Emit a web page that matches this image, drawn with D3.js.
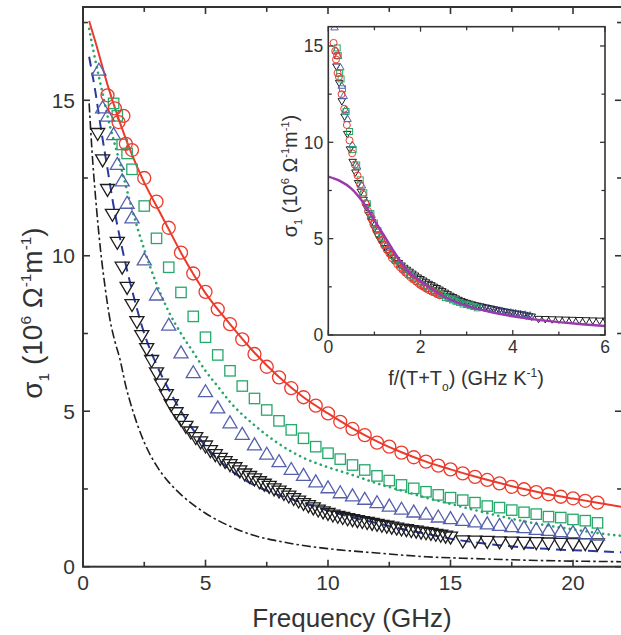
<!DOCTYPE html>
<html>
<head>
<meta charset="utf-8">
<script src="https://cdn.jsdelivr.net/npm/d3@7"></script>
<style>
  body { margin: 0; background: #fff; }
  svg { display: block; font-family: "Liberation Sans", Arial, sans-serif; }
</style>
</head>
<body>
<svg id="chart" width="621" height="635"></svg>
<script>
// ---- data (frequency in GHz, sigma_1 in 10^6 1/(Ohm m)) ----
let redF = [1.0, 1.3, 1.45, 1.65, 1.75, 2.0, 2.5, 3.0, 3.5, 4.0, 4.5, 5.0, 5.5, 6.0, 6.5, 7.0, 7.5, 8.0, 8.5, 9.0, 9.5, 10, 10.5, 11, 11.5, 12, 12.5, 13, 13.5, 14, 14.5, 15, 15.5, 16, 16.5, 17, 17.5, 18, 18.5, 19, 19.5, 20, 20.5, 21];
let redS = [15.16, 14.74, 14.3, 14.5, 13.6, 13.4, 12.5, 11.74, 10.9, 10.1, 9.43, 8.84, 8.28, 7.8, 7.31, 6.84, 6.43, 6.09, 5.74, 5.45, 5.18, 4.93, 4.66, 4.43, 4.23, 3.99, 3.86, 3.67, 3.52, 3.38, 3.25, 3.13, 3.0, 2.89, 2.79, 2.68, 2.57, 2.49, 2.4, 2.33, 2.25, 2.2, 2.12, 2.06];

let greenF = [1.25, 1.4, 1.6, 1.8, 2.0, 2.5, 3.0, 3.5, 4.0, 4.5, 5.0, 5.5, 6.0, 6.5, 7.0, 7.5, 8.0, 8.5, 9.0, 9.5, 10, 10.5, 11, 11.5, 12, 12.5, 13, 13.5, 14, 14.5, 15, 15.5, 16, 16.5, 17, 17.5, 18, 18.5, 19, 19.5, 20, 20.5, 21];
let greenS = [14.9, 14.5, 13.58, 13.29, 12.78, 11.6, 10.56, 9.63, 8.82, 8.05, 7.38, 6.81, 6.3, 5.81, 5.41, 5.04, 4.69, 4.4, 4.13, 3.86, 3.65, 3.46, 3.27, 3.11, 2.92, 2.77, 2.63, 2.52, 2.41, 2.31, 2.22, 2.14, 2.06, 1.95, 1.9, 1.82, 1.75, 1.69, 1.61, 1.58, 1.52, 1.48, 1.41];

let blueF = [0.65, 0.8, 1.0, 1.25, 1.4, 1.6, 1.8, 2.0, 2.5, 3.0, 3.5, 4.0, 4.5, 5.0, 5.5, 6.0, 6.5, 7.0, 7.5, 8.0, 8.5, 9.0, 9.5, 10, 10.5, 11, 11.5, 12, 12.5, 13, 13.5, 14, 14.5, 15, 15.5, 16, 16.5, 17, 17.5, 18, 18.5, 19, 19.5, 20, 20.5, 21];
let blueS = [16.0, 14.79, 14.52, 13.93, 12.97, 12.44, 11.72, 11.25, 9.9, 8.77, 7.8, 6.91, 6.27, 5.66, 5.14, 4.66, 4.29, 3.95, 3.65, 3.41, 3.16, 2.97, 2.76, 2.57, 2.41, 2.31, 2.2, 2.09, 1.98, 1.88, 1.79, 1.72, 1.63, 1.58, 1.52, 1.47, 1.41, 1.36, 1.32, 1.29, 1.23, 1.2, 1.16, 1.13, 1.09, 1.05];

let blackF = [0.6, 0.8, 1.0, 1.2, 1.4, 1.6, 1.8, 2.0, 2.2, 2.4, 2.6, 2.8, 3.0, 3.2, 3.4, 3.6, 3.8, 4.0, 4.2, 4.4, 4.6, 4.8, 5.0, 5.2, 5.4, 5.6, 5.8, 6.0, 6.2, 6.4, 6.6, 6.8, 7.0, 7.2, 7.4, 7.6, 7.8, 8.0, 8.2, 8.4, 8.6, 8.8, 9.0, 9.2, 9.4, 9.6, 9.8, 10.0, 10.2, 10.4, 10.6, 10.8, 11.0, 11.2, 11.4, 11.6, 11.8, 12.0, 12.2, 12.4, 12.6, 12.8, 13.0, 13.2, 13.4, 13.6, 13.8, 14.0, 14.2, 14.4, 14.6, 14.8, 15.0,
              15.5, 16, 16.5, 17, 17.5, 18, 18.5, 19, 19.5, 20, 20.5, 21];
let blackS = [13.9, 13.05, 12.1, 11.3, 10.4, 9.6, 8.95, 8.4, 7.85, 7.4, 6.98, 6.6, 6.2, 5.84, 5.5, 5.18, 4.92, 4.7, 4.48, 4.3, 4.12, 3.98, 3.85, 3.7, 3.57, 3.45, 3.35, 3.25, 3.15, 3.05, 2.95, 2.87, 2.79, 2.7, 2.62, 2.55, 2.47, 2.4, 2.32, 2.24, 2.16, 2.08, 2.0, 1.93, 1.86, 1.79, 1.73, 1.68, 1.63, 1.59, 1.55, 1.51, 1.48, 1.45, 1.42, 1.39, 1.36, 1.33, 1.3, 1.27, 1.24, 1.21, 1.18, 1.16, 1.13, 1.11, 1.08, 1.06, 1.04, 1.01, 0.98, 0.95, 0.92,
              0.8, 0.79, 0.78, 0.77, 0.76, 0.75, 0.74, 0.73, 0.72, 0.71, 0.71, 0.7];

// model curves in the main panel
let redLineF = [0.25, 0.5, 1, 1.5, 2, 2.5, 3, 3.5, 4, 5, 6, 7, 8, 9, 10, 11, 12, 13, 14, 15, 16, 17, 18, 19, 20, 21, 22];
let redLineS = [17.55, 16.9, 15.5, 14.3, 13.25, 12.35, 11.6, 10.85, 10.1, 8.8, 7.8, 6.88, 6.1, 5.45, 4.93, 4.45, 4.03, 3.68, 3.38, 3.13, 2.9, 2.69, 2.5, 2.33, 2.19, 2.06, 1.92];
let greenLineF = [0.25, 0.5, 0.75, 1, 1.5, 2, 2.5, 3, 3.5, 4, 4.5, 5, 5.5, 6, 7, 8, 9, 10, 11, 12, 13, 14, 15, 16, 17, 18, 19, 20, 21, 22];
let greenLineS = [17.3, 16.3, 15.4, 14.5, 13.0, 11.5, 10.2, 9.1, 8.2, 7.5, 6.9, 6.3, 5.8, 5.3, 4.55, 3.95, 3.5, 3.2, 2.95, 2.68, 2.45, 2.22, 2.02, 1.82, 1.63, 1.46, 1.32, 1.2, 1.08, 0.99];
let blueLineF = [0.25, 0.5, 0.75, 1, 1.25, 1.5, 1.75, 2, 2.5, 3, 3.5, 4, 4.5, 5, 6, 7, 8, 9, 10, 11, 12, 13, 14, 15, 16, 17, 18, 19, 20, 21, 22];
let blueLineS = [16.4, 15.3, 14.0, 12.8, 11.6, 10.6, 9.7, 8.9, 7.5, 6.5, 5.7, 5.0, 4.4, 3.88, 3.12, 2.62, 2.3, 2.05, 1.8, 1.58, 1.4, 1.22, 1.06, 0.9, 0.78, 0.69, 0.62, 0.57, 0.53, 0.5, 0.46];
let blackLineF = [0.25, 0.4, 0.5, 0.7, 0.9, 1.1, 1.3, 1.5, 1.75, 2, 2.5, 3, 3.5, 4, 5, 6, 7, 8, 9, 10, 12, 14, 16, 18, 20, 22];
let blackLineS = [14.9, 13.0, 12.0, 10.3, 9.0, 7.95, 7.25, 6.7, 5.8, 5.1, 4.0, 3.25, 2.72, 2.32, 1.72, 1.3, 1.0, 0.82, 0.68, 0.58, 0.44, 0.32, 0.26, 0.21, 0.18, 0.16];

// inset: T + T0 (K) for red, green, blue, black, and the purple model curve
let tPlusT0 = [8.7, 6.5, 4.8, 3.4];
let purpleU = [0, 0.25, 0.5, 0.75, 1, 1.25, 1.5, 1.75, 2, 2.5, 3, 3.5, 4, 4.5, 5, 5.5, 6];
let purpleS = [8.22, 8.0, 7.6, 6.9, 5.95, 5.0, 4.05, 3.25, 2.8, 2.0, 1.52, 1.2, 0.97, 0.8, 0.67, 0.56, 0.47];

let xTicks = [0, 5, 10, 15, 20];
let yTicks = [0, 5, 10, 15];
let insetXTicks = [0, 2, 4, 6];
let insetYTicks = [0, 5, 10, 15];

const RED = '#ec3a2c', GREEN = '#26a86b', BLUE = '#5560ad', DBLUE = '#2a3a9c', BLACK = '#1e1e1e', PURPLE = '#9b38b0';
const AXIS = '#333';

const svg = d3.select('#chart');

const x = d3.scaleLinear().domain([0, 22]).range([83, 622]);
const y = d3.scaleLinear().domain([0, 18]).range([566.7, 7]);
const ix = d3.scaleLinear().domain([0, 6]).range([328.3, 605]);
const iy = d3.scaleLinear().domain([0, 16]).range([335, 26.7]);

function zip(a, b) {
    return a.map((v, i) => [v, b[i]]);
}

function trianglePath(w, h, up) {
    let s = up ? 1 : -1;
    return `M0,${-s * h / 2}L${w / 2},${s * h / 2}L${-w / 2},${s * h / 2}Z`;
}

function drawMarkers(g, pts, sx, sy, kind, color, size) {
    let sel = g.append('g').attr('fill', 'none').attr('stroke', color).attr('stroke-width', size > 8 ? 1.3 : 1);
    if (kind == 'circle') {
        sel.selectAll('circle').data(pts).join('circle')
            .attr('cx', d => sx(d[0])).attr('cy', d => sy(d[1])).attr('r', size / 2);
    } else if (kind == 'square') {
        sel.selectAll('rect').data(pts).join('rect')
            .attr('x', d => sx(d[0]) - size * 0.4).attr('y', d => sy(d[1]) - size * 0.4)
            .attr('width', size * 0.8).attr('height', size * 0.8);
    } else {
        sel.selectAll('path').data(pts).join('path')
            .attr('transform', d => `translate(${sx(d[0])},${sy(d[1])})`)
            .attr('d', trianglePath(size * 1.08, size * 0.92, kind == 'up'));
    }
}

function drawLine(g, pts, sx, sy, color, width, dash) {
    let line = d3.line().x(d => sx(d[0])).y(d => sy(d[1])).curve(d3.curveMonotoneX);
    g.append('path').datum(pts)
        .attr('d', line)
        .attr('fill', 'none')
        .attr('stroke', color)
        .attr('stroke-width', width)
        .attr('stroke-dasharray', dash)
        .attr('stroke-linecap', dash == '0.1,5.5' ? 'round' : 'butt');
}

// frame + ticks (ticks on all four sides, pointing inward)
function drawFrame(sx, sy, majorX, majorY, minorX, minorY, len, fontSize, pad, strokeW) {
    let [x0, x1] = sx.range();
    let [y0, y1] = sy.range();
    let g = svg.append('g').attr('stroke', AXIS);
    g.append('rect').attr('x', x0).attr('y', y1).attr('width', x1 - x0).attr('height', y0 - y1)
        .attr('fill', 'none').attr('stroke-width', strokeW);
    let ticks = [];
    majorX.forEach(v => ticks.push({ v: v, l: len, ax: 'x' }));
    minorX.forEach(v => ticks.push({ v: v, l: len * 0.7, ax: 'x' }));
    majorY.forEach(v => ticks.push({ v: v, l: len, ax: 'y' }));
    minorY.forEach(v => ticks.push({ v: v, l: len * 0.7, ax: 'y' }));
    ticks.forEach(t => {
        if (t.ax == 'x') {
            let px = sx(t.v);
            g.append('line').attr('x1', px).attr('x2', px).attr('y1', y0).attr('y2', y0 - t.l).attr('stroke-width', strokeW * 0.8);
            g.append('line').attr('x1', px).attr('x2', px).attr('y1', y1).attr('y2', y1 + t.l).attr('stroke-width', strokeW * 0.8);
        } else {
            let py = sy(t.v);
            g.append('line').attr('y1', py).attr('y2', py).attr('x1', x0).attr('x2', x0 + t.l).attr('stroke-width', strokeW * 0.8);
            g.append('line').attr('y1', py).attr('y2', py).attr('x1', x1).attr('x2', x1 - t.l).attr('stroke-width', strokeW * 0.8);
        }
    });
    let lab = svg.append('g').attr('fill', AXIS).attr('font-size', fontSize);
    lab.selectAll('.xl').data(majorX).join('text')
        .attr('x', d => sx(d)).attr('y', y0 + pad + fontSize * 0.72)
        .attr('text-anchor', 'middle').text(d => d);
    lab.selectAll('.yl').data(majorY).join('text')
        .attr('x', x0 - pad).attr('y', d => sy(d) + fontSize * 0.36)
        .attr('text-anchor', 'end').text(d => d);
}

// sigma_1 (10^6 Ohm^-1 m^-1) label with sub / superscripts
function sigmaLabel(g, fs) {
    let t = g.append('text').attr('text-anchor', 'middle').attr('font-size', fs).attr('fill', AXIS);
    t.append('tspan').text('σ');
    t.append('tspan').attr('font-size', fs * 0.55).attr('dy', fs * 0.25).text('1');
    t.append('tspan').attr('dy', -fs * 0.25).text(' (10');
    t.append('tspan').attr('font-size', fs * 0.55).attr('dy', -fs * 0.4).text('6');
    t.append('tspan').attr('dy', fs * 0.4).text('  Ω');
    t.append('tspan').attr('font-size', fs * 0.55).attr('dy', -fs * 0.4).text('-1');
    t.append('tspan').attr('dy', fs * 0.4).text('m');
    t.append('tspan').attr('font-size', fs * 0.55).attr('dy', -fs * 0.4).text('-1');
    t.append('tspan').attr('dy', fs * 0.4).text(')');
    return t;
}

// ---------------- main panel ----------------
svg.append('clipPath').attr('id', 'mainClip').append('rect')
    .attr('x', 83).attr('y', 7).attr('width', 539).attr('height', 559.7);
let mainG = svg.append('g').attr('clip-path', 'url(#mainClip)');

drawLine(mainG, zip(blackLineF, blackLineS), x, y, BLACK, 1.6, '9,3,2.5,3');
drawLine(mainG, zip(blueLineF, blueLineS), x, y, DBLUE, 2, '10,6');
drawLine(mainG, zip(greenLineF, greenLineS), x, y, GREEN, 2.6, '0.1,5.5');
drawLine(mainG, zip(redLineF, redLineS), x, y, RED, 2, null);

drawMarkers(mainG, zip(blackF, blackS), x, y, 'down', BLACK, 13);
drawMarkers(mainG, zip(blueF, blueS), x, y, 'up', BLUE, 13);
drawMarkers(mainG, zip(greenF, greenS), x, y, 'square', GREEN, 13);
drawMarkers(mainG, zip(redF, redS), x, y, 'circle', RED, 13);

drawFrame(x, y, xTicks, yTicks, [2.5, 7.5, 12.5, 17.5], [2.5, 7.5, 12.5, 17.5], 7, 21, 8, 2);

svg.append('text').attr('x', 352).attr('y', 627).attr('text-anchor', 'middle')
    .attr('font-size', 26).attr('fill', AXIS).text('Frequency (GHz)');
sigmaLabel(svg.append('g').attr('transform', 'translate(42,313) rotate(-90)'), 28);

// ---------------- inset ----------------
svg.append('rect').attr('x', 328.3).attr('y', 26.7).attr('width', 276.7).attr('height', 308.3).attr('fill', '#fff');
svg.append('clipPath').attr('id', 'insetClip').append('rect')
    .attr('x', 328.3).attr('y', 26.7).attr('width', 276.7).attr('height', 308.3);
let insetG = svg.append('g').attr('clip-path', 'url(#insetClip)');

let scaled = (fs, k) => fs.map(f => f / tPlusT0[k]);
drawMarkers(insetG, zip(scaled(blackF, 3), blackS), ix, iy, 'down', BLACK, 7);
drawMarkers(insetG, zip(scaled(blueF, 2), blueS), ix, iy, 'up', BLUE, 7);
drawMarkers(insetG, zip(scaled(greenF, 1), greenS), ix, iy, 'square', GREEN, 7.5);
drawMarkers(insetG, zip(scaled(redF, 0), redS), ix, iy, 'circle', RED, 7);
drawLine(insetG, zip(purpleU, purpleS), ix, iy, PURPLE, 2.4, null);

drawFrame(ix, iy, insetXTicks, insetYTicks, [1, 3, 5], [2.5, 7.5, 12.5], 5, 17.5, 5, 1.6);

let xt = svg.append('text').attr('x', 466).attr('y', 385).attr('text-anchor', 'middle')
    .attr('font-size', 20).attr('fill', AXIS);
xt.append('tspan').text('f/(T+T');
xt.append('tspan').attr('font-size', 12).attr('dy', 6).text('o');
xt.append('tspan').attr('dy', -6).text(') (GHz K');
xt.append('tspan').attr('font-size', 12).attr('dy', -8).text('-1');
xt.append('tspan').attr('dy', 8).text(')');
sigmaLabel(svg.append('g').attr('transform', 'translate(297,176) rotate(-90)'), 20);
</script>
</body>
</html>
